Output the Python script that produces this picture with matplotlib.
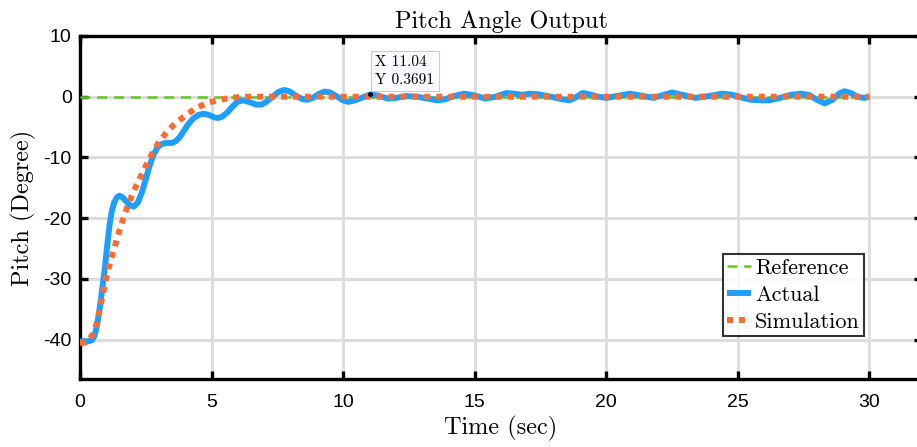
import matplotlib
matplotlib.use("Agg")
import matplotlib.pyplot as plt

plt.rcParams["axes.unicode_minus"] = False

t_act = [0, 0.3, 0.45, 0.55, 0.65, 0.75, 0.85, 0.95, 1.04, 1.12, 1.2, 1.3, 1.4, 1.5,
         1.6, 1.75, 1.9, 2.05, 2.2, 2.35, 2.5, 2.65, 2.8, 2.95, 3.1, 3.3, 3.5, 3.65,
         3.8, 3.95, 4.1, 4.3, 4.5, 4.7, 4.9, 5.1, 5.25, 5.4, 5.6, 5.8, 6.0, 6.2, 6.45,
         6.7, 6.9, 7.1, 7.35, 7.55, 7.75, 7.95, 8.2, 8.45, 8.65, 8.85, 9.05, 9.3, 9.5,
         9.75, 10.0, 10.2, 10.45, 10.75, 11.04, 11.3, 11.7, 12.0, 12.4, 12.8, 13.2,
         13.6, 13.9, 14.2, 14.6, 15.0, 15.4, 15.8, 16.2, 16.5, 16.8, 17.1, 17.4, 17.9,
         18.3, 18.6, 18.85, 19.1, 19.35, 19.7, 20.0, 20.4, 20.9, 21.3, 21.8, 22.1,
         22.5, 22.9, 23.4, 23.9, 24.4, 24.8, 25.2, 25.5, 25.9, 26.2, 26.6, 27.0, 27.4,
         27.7, 28.0, 28.3, 28.6, 28.85, 29.05, 29.3, 29.55, 29.8, 30.0]
y_act = [-40.3, -40.3, -40.1, -39.4, -37.6, -34.8, -31.5, -28.0, -24.3, -21.2, -19.0,
         -17.4, -16.6, -16.3, -16.5, -17.2, -17.9, -18.1, -17.4, -15.8, -13.6, -11.3,
         -9.5, -8.3, -7.8, -7.6, -7.6, -7.3, -6.6, -5.6, -4.6, -3.6, -3.0, -2.8, -3.0,
         -3.4, -3.5, -3.3, -2.6, -1.6, -0.8, -0.6, -0.9, -1.3, -1.3, -0.8, 0.1, 0.8,
         1.1, 0.9, 0.2, -0.4, -0.5, -0.2, 0.4, 0.85, 0.7, 0.1, -0.6, -0.85, -0.6, -0.1,
         0.37, 0.2, -0.3, -0.2, 0.1, 0.0, -0.3, -0.6, -0.4, 0.1, 0.5, 0.2, -0.3, 0.0,
         0.6, 0.5, 0.3, 0.5, 0.4, 0.0, -0.4, -0.6, -0.1, 0.6, 0.4, 0.0, -0.2, 0.1, 0.5,
         0.2, -0.2, 0.2, 0.7, 0.3, -0.2, 0.1, 0.5, 0.3, -0.2, -0.5, -0.6, -0.6, -0.2,
         0.3, 0.5, 0.3, -0.5, -1.1, -0.5, 0.5, 0.9, 0.6, 0.0, -0.2, 0.0]

# シミュレーション
t_sim = [0, 0.2, 0.35, 0.5, 0.65, 0.8, 1.0, 1.15, 1.3, 1.5, 1.7, 1.9, 2.1, 2.3, 2.5,
         2.75, 3.0, 3.3, 3.55, 3.8, 4.1, 4.4, 4.8, 5.2, 5.7, 6.2, 30.0]
y_sim = [-40.6, -40.5, -40.0, -39.0, -37.2, -34.0, -29.8, -27.2, -25.0, -22.0, -19.3,
         -17.0, -15.0, -13.2, -11.4, -9.3, -7.5, -5.8, -4.7, -3.8, -2.8, -1.9, -1.1,
         -0.6, -0.2, 0.0, 0.0]

# 目標値
t_ref = [0, 30]
y_ref = [0, 0]

tip_x, tip_y = 11.04, 0.3691

CM = "cmr10"
SANS = ["Liberation Sans", "DejaVu Sans"]

fig = plt.figure(figsize=(9.17, 4.47), dpi=100)
ax = fig.add_axes([80 / 917, 1 - 379 / 447, 842 / 917, 343 / 447])

ax.plot(t_ref, y_ref, color="#5FCC1A", lw=1.8, dashes=(4, 2.7), label="Reference", zorder=3)
ax.plot(t_act, y_act, color="#1E9FFF", lw=4.3, label="Actual", zorder=4,
        solid_joinstyle="round", solid_capstyle="butt")
ax.plot(t_sim, y_sim, color="#FF6A30", lw=4.3, dashes=(1, 1), dash_capstyle="butt",
        label="Simulation", zorder=5)

ax.plot([tip_x], [tip_y], "o", color="k", ms=2.5, zorder=6)
ax.annotate(f"X {tip_x:.2f}\nY {tip_y:.4f}", xy=(tip_x, tip_y), xytext=(3.5, 5.5),
            textcoords="offset points", fontsize=11, family=CM, va="bottom", ha="left",
            linespacing=1.4,
            bbox=dict(boxstyle="square,pad=0.3", fc="#FAFAFF", ec="#CCCCCC", lw=0.8),
            zorder=7)

ax.set_xlim(0, 32.0)
ax.set_ylim(-46.5, 10)
ax.set_xticks(range(0, 31, 5))
ax.set_yticks(range(-40, 11, 10))
ax.grid(True, color="#DDDDDD", lw=2.2, zorder=0)
ax.set_axisbelow(True)

for s in ax.spines.values():
    s.set_linewidth(2.4)
ax.tick_params(direction="in", length=6, width=2.4, top=True, right=True,
               labelsize=14)
ax.tick_params(axis="x", pad=11)
ax.tick_params(axis="y", pad=6)
for lb in ax.get_xticklabels() + ax.get_yticklabels():
    lb.set_family(SANS)

ax.set_title("Pitch Angle Output", family=CM, fontsize=17.5, pad=6)
ax.set_xlabel("Time (sec)", family=CM, fontsize=17.5, labelpad=3)
ax.set_ylabel("Pitch (Degree)", family=CM, fontsize=17.5, labelpad=5)

# 凡例の右下を (864, 336) px に合わせる
bx = (864 - 80) / 842
by = (379 - 336) / 343
leg = ax.legend(loc="lower right", bbox_to_anchor=(bx, by),
                prop={"family": CM, "size": 16}, frameon=True, fancybox=False,
                handlelength=1.1, handletextpad=0.15, borderpad=0.2, labelspacing=0.32,
                borderaxespad=0)
leg.get_frame().set_edgecolor("k")
leg.get_frame().set_linewidth(1.5)

fig.savefig("out.png", dpi=100)
